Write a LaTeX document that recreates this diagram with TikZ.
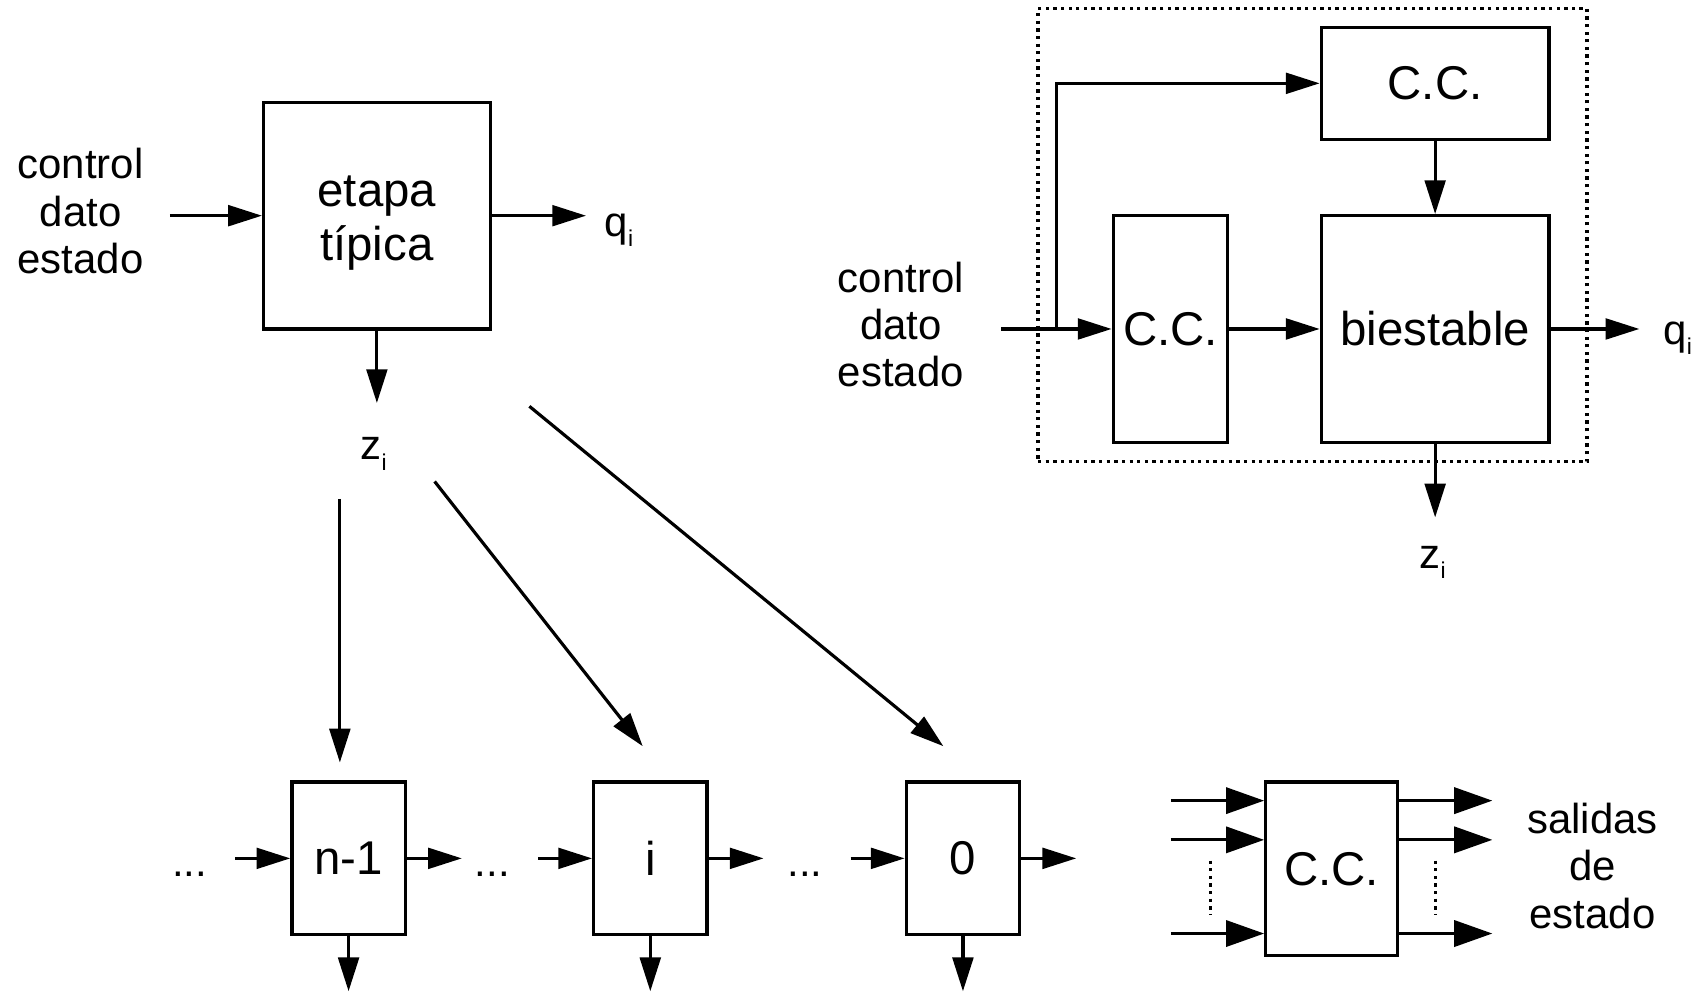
\documentclass[tikz,border=0pt]{standalone}
\usepackage{fontspec}
\setmainfont{Liberation Sans}
\usetikzlibrary{arrows.meta}

% lowered small index, as in q_i and z_i
\newcommand{\lowidx}[1]{\raisebox{-9.5pt}{\fontsize{21}{21}\selectfont #1}}

\begin{document}
\begin{tikzpicture}[x=1pt,y=-1pt,
  box/.style={draw, line width=3pt, inner sep=0pt, align=center,
              font=\fontsize{43.5}{50}\selectfont},
  boxtext/.style={inner sep=0pt, align=center, font=\fontsize{43.5}{50}\selectfont},
  lbl/.style={font=\fontsize{38.5}{43.5}\selectfont, align=center, inner sep=0pt},
  arr/.style={line width=2.9pt, -{Triangle[length=31pt,width=19pt]}},
  bigarr/.style={line width=2.9pt, -{Triangle[length=35pt,width=24pt]}},
  dotline/.style={line width=3pt, dash pattern=on 3pt off 4pt},
]
\useasboundingbox (0,0) rectangle (1568,910);

% ---------- typical stage ----------
\node[box, minimum width=208pt, minimum height=208pt] (etapa) at (346,198) {};
\node[boxtext] (etapaT) at (346,205) {etapa\\típica};
\node[lbl] (inL) at (74,194) {control\\dato\\estado};
\node[lbl, anchor=base west] (qL) at (555,217) {q\lowidx{i}};
\node[lbl, anchor=base west] (zL) at (331,422) {z\lowidx{i}};
\coordinate (inLend) at (156,198);
\coordinate (qLtip) at (538,198);
\coordinate (zLtip) at (346,370);
\draw[arr] (inLend) -- (etapa.west);
\draw[arr] (etapa.east) -- (qLtip);
\draw[arr] (etapa.south) -- (zLtip);

% ---------- fan-out to the register ----------
\coordinate (f1s) at (312,458);  \coordinate (f1e) at (312,700);
\coordinate (f2s) at (399,442);  \coordinate (f2e) at (590,685);
\coordinate (f3s) at (486,373);  \coordinate (f3e) at (866,685);
\draw[arr] (f1s) -- (f1e);
\draw[arr] (f2s) -- (f2e);
\draw[arr] (f3s) -- (f3e);

% ---------- chain of stages ----------
\node[box, minimum width=104pt, minimum height=140pt] (n1) at (320,788) {n-1};
\node[box, minimum width=104pt, minimum height=140pt] (ni) at (597,788) {i};
\node[box, minimum width=104pt, minimum height=140pt] (n0) at (884,788) {0};
\node[lbl, anchor=base] (d1) at (174,805) {...};
\node[lbl, anchor=base] (d2) at (452,805) {...};
\node[lbl, anchor=base] (d3) at (739,805) {...};
\coordinate (c1) at (216,788);
\coordinate (c2) at (424,788);
\coordinate (c3) at (494,788);
\coordinate (c4) at (701,788);
\coordinate (c5) at (781,788);
\coordinate (c6) at (988,788);
\draw[arr] (c1) -- (n1.west);
\draw[arr] (n1.east) -- (c2);
\draw[arr] (c3) -- (ni.west);
\draw[arr] (ni.east) -- (c4);
\draw[arr] (c5) -- (n0.west);
\draw[arr] (n0.east) -- (c6);
\coordinate (o1) at (320,910);
\coordinate (o2) at (597,910);
\coordinate (o3) at (884,910);
\draw[arr] (n1.south) -- (o1);
\draw[arr] (ni.south) -- (o2);
\draw[arr] (n0.south) -- (o3);

% ---------- next-state combinational circuit ----------
\node[box, minimum width=121pt, minimum height=159pt] (cc3) at (1222.5,797.5) {C.C.};
\node[lbl] (sal) at (1462,795) {salidas\\de\\estado};
\coordinate (i1) at (1075,735);
\coordinate (i2) at (1075,771);
\coordinate (i3) at (1075,857);
\coordinate (e1) at (1370,735);
\coordinate (e2) at (1370,771);
\coordinate (e3) at (1370,857);
\draw[bigarr] (i1) -- (i1 -| cc3.west);
\draw[bigarr] (i2) -- (i2 -| cc3.west);
\draw[bigarr] (i3) -- (i3 -| cc3.west);
\draw[bigarr] (e1 -| cc3.east) -- (e1);
\draw[bigarr] (e2 -| cc3.east) -- (e2);
\draw[bigarr] (e3 -| cc3.east) -- (e3);
\coordinate (v1a) at (1111,790); \coordinate (v1b) at (1111,840);
\coordinate (v2a) at (1318,790); \coordinate (v2b) at (1318,840);
\draw[dotline] (v1a) -- (v1b);
\draw[dotline] (v2a) -- (v2b);

% ---------- inside of a stage ----------
\node[draw, dotline, inner sep=0pt, minimum width=504pt, minimum height=416pt] (frame) at (1205,216) {};
\node[box, minimum width=209pt, minimum height=103pt] (ccT) at (1317.5,76.5) {C.C.};
\node[box, minimum width=105pt, minimum height=208pt] (ccL) at (1074.5,302) {C.C.};
\node[box, minimum width=209pt, minimum height=208pt] (bie) at (1317.5,302) {biestable};
\node[lbl] (inR) at (827,298) {control\\dato\\estado};
\node[lbl, anchor=base west] (qR) at (1527,316) {q\lowidx{i}};
\node[lbl, anchor=base west] (zR) at (1303,522) {z\lowidx{i}};
\coordinate (inRend) at (919,302);
\coordinate (split) at (970,302);
\coordinate (qRtip) at (1505,302);
\coordinate (zRtip) at (1317.5,475);
\draw[arr] (inRend) -- (ccL.west);
\draw[arr] (split) |- (ccT.west);
\draw[arr] (ccL.east) -- (bie.west);
\draw[arr] (ccT.south) -- (bie.north);
\draw[arr] (bie.east) -- (qRtip);
\draw[arr] (bie.south) -- (zRtip);
\end{tikzpicture}
\end{document}
